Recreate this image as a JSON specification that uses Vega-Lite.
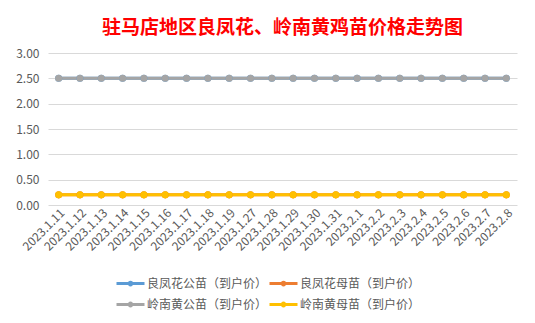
{
  "$schema": "https://vega.github.io/schema/vega-lite/v6.json",
  "autosize": {"type": "none"},
  "width": 469,
  "height": 152,
  "padding": {"left": 48, "top": 53, "right": 18, "bottom": 118},
  "background": "white",
  "title": {
    "text": "驻马店地区良凤花、岭南黄鸡苗价格走势图",
    "font": "Noto Sans CJK SC",
    "fontSize": 19,
    "fontWeight": "bold",
    "color": "#FF0000",
    "anchor": "middle",
    "offset": 9
  },
  "data": {
    "values": [
      {"date": "2023.1.11", "series": "良凤花公苗（到户价）", "price": 2.5},
      {"date": "2023.1.12", "series": "良凤花公苗（到户价）", "price": 2.5},
      {"date": "2023.1.13", "series": "良凤花公苗（到户价）", "price": 2.5},
      {"date": "2023.1.14", "series": "良凤花公苗（到户价）", "price": 2.5},
      {"date": "2023.1.15", "series": "良凤花公苗（到户价）", "price": 2.5},
      {"date": "2023.1.16", "series": "良凤花公苗（到户价）", "price": 2.5},
      {"date": "2023.1.17", "series": "良凤花公苗（到户价）", "price": 2.5},
      {"date": "2023.1.18", "series": "良凤花公苗（到户价）", "price": 2.5},
      {"date": "2023.1.19", "series": "良凤花公苗（到户价）", "price": 2.5},
      {"date": "2023.1.27", "series": "良凤花公苗（到户价）", "price": 2.5},
      {"date": "2023.1.28", "series": "良凤花公苗（到户价）", "price": 2.5},
      {"date": "2023.1.29", "series": "良凤花公苗（到户价）", "price": 2.5},
      {"date": "2023.1.30", "series": "良凤花公苗（到户价）", "price": 2.5},
      {"date": "2023.1.31", "series": "良凤花公苗（到户价）", "price": 2.5},
      {"date": "2023.2.1", "series": "良凤花公苗（到户价）", "price": 2.5},
      {"date": "2023.2.2", "series": "良凤花公苗（到户价）", "price": 2.5},
      {"date": "2023.2.3", "series": "良凤花公苗（到户价）", "price": 2.5},
      {"date": "2023.2.4", "series": "良凤花公苗（到户价）", "price": 2.5},
      {"date": "2023.2.5", "series": "良凤花公苗（到户价）", "price": 2.5},
      {"date": "2023.2.6", "series": "良凤花公苗（到户价）", "price": 2.5},
      {"date": "2023.2.7", "series": "良凤花公苗（到户价）", "price": 2.5},
      {"date": "2023.2.8", "series": "良凤花公苗（到户价）", "price": 2.5},
      {"date": "2023.1.11", "series": "良凤花母苗（到户价）", "price": 0.2},
      {"date": "2023.1.12", "series": "良凤花母苗（到户价）", "price": 0.2},
      {"date": "2023.1.13", "series": "良凤花母苗（到户价）", "price": 0.2},
      {"date": "2023.1.14", "series": "良凤花母苗（到户价）", "price": 0.2},
      {"date": "2023.1.15", "series": "良凤花母苗（到户价）", "price": 0.2},
      {"date": "2023.1.16", "series": "良凤花母苗（到户价）", "price": 0.2},
      {"date": "2023.1.17", "series": "良凤花母苗（到户价）", "price": 0.2},
      {"date": "2023.1.18", "series": "良凤花母苗（到户价）", "price": 0.2},
      {"date": "2023.1.19", "series": "良凤花母苗（到户价）", "price": 0.2},
      {"date": "2023.1.27", "series": "良凤花母苗（到户价）", "price": 0.2},
      {"date": "2023.1.28", "series": "良凤花母苗（到户价）", "price": 0.2},
      {"date": "2023.1.29", "series": "良凤花母苗（到户价）", "price": 0.2},
      {"date": "2023.1.30", "series": "良凤花母苗（到户价）", "price": 0.2},
      {"date": "2023.1.31", "series": "良凤花母苗（到户价）", "price": 0.2},
      {"date": "2023.2.1", "series": "良凤花母苗（到户价）", "price": 0.2},
      {"date": "2023.2.2", "series": "良凤花母苗（到户价）", "price": 0.2},
      {"date": "2023.2.3", "series": "良凤花母苗（到户价）", "price": 0.2},
      {"date": "2023.2.4", "series": "良凤花母苗（到户价）", "price": 0.2},
      {"date": "2023.2.5", "series": "良凤花母苗（到户价）", "price": 0.2},
      {"date": "2023.2.6", "series": "良凤花母苗（到户价）", "price": 0.2},
      {"date": "2023.2.7", "series": "良凤花母苗（到户价）", "price": 0.2},
      {"date": "2023.2.8", "series": "良凤花母苗（到户价）", "price": 0.2},
      {"date": "2023.1.11", "series": "岭南黄公苗（到户价）", "price": 2.5},
      {"date": "2023.1.12", "series": "岭南黄公苗（到户价）", "price": 2.5},
      {"date": "2023.1.13", "series": "岭南黄公苗（到户价）", "price": 2.5},
      {"date": "2023.1.14", "series": "岭南黄公苗（到户价）", "price": 2.5},
      {"date": "2023.1.15", "series": "岭南黄公苗（到户价）", "price": 2.5},
      {"date": "2023.1.16", "series": "岭南黄公苗（到户价）", "price": 2.5},
      {"date": "2023.1.17", "series": "岭南黄公苗（到户价）", "price": 2.5},
      {"date": "2023.1.18", "series": "岭南黄公苗（到户价）", "price": 2.5},
      {"date": "2023.1.19", "series": "岭南黄公苗（到户价）", "price": 2.5},
      {"date": "2023.1.27", "series": "岭南黄公苗（到户价）", "price": 2.5},
      {"date": "2023.1.28", "series": "岭南黄公苗（到户价）", "price": 2.5},
      {"date": "2023.1.29", "series": "岭南黄公苗（到户价）", "price": 2.5},
      {"date": "2023.1.30", "series": "岭南黄公苗（到户价）", "price": 2.5},
      {"date": "2023.1.31", "series": "岭南黄公苗（到户价）", "price": 2.5},
      {"date": "2023.2.1", "series": "岭南黄公苗（到户价）", "price": 2.5},
      {"date": "2023.2.2", "series": "岭南黄公苗（到户价）", "price": 2.5},
      {"date": "2023.2.3", "series": "岭南黄公苗（到户价）", "price": 2.5},
      {"date": "2023.2.4", "series": "岭南黄公苗（到户价）", "price": 2.5},
      {"date": "2023.2.5", "series": "岭南黄公苗（到户价）", "price": 2.5},
      {"date": "2023.2.6", "series": "岭南黄公苗（到户价）", "price": 2.5},
      {"date": "2023.2.7", "series": "岭南黄公苗（到户价）", "price": 2.5},
      {"date": "2023.2.8", "series": "岭南黄公苗（到户价）", "price": 2.5},
      {"date": "2023.1.11", "series": "岭南黄母苗（到户价）", "price": 0.2},
      {"date": "2023.1.12", "series": "岭南黄母苗（到户价）", "price": 0.2},
      {"date": "2023.1.13", "series": "岭南黄母苗（到户价）", "price": 0.2},
      {"date": "2023.1.14", "series": "岭南黄母苗（到户价）", "price": 0.2},
      {"date": "2023.1.15", "series": "岭南黄母苗（到户价）", "price": 0.2},
      {"date": "2023.1.16", "series": "岭南黄母苗（到户价）", "price": 0.2},
      {"date": "2023.1.17", "series": "岭南黄母苗（到户价）", "price": 0.2},
      {"date": "2023.1.18", "series": "岭南黄母苗（到户价）", "price": 0.2},
      {"date": "2023.1.19", "series": "岭南黄母苗（到户价）", "price": 0.2},
      {"date": "2023.1.27", "series": "岭南黄母苗（到户价）", "price": 0.2},
      {"date": "2023.1.28", "series": "岭南黄母苗（到户价）", "price": 0.2},
      {"date": "2023.1.29", "series": "岭南黄母苗（到户价）", "price": 0.2},
      {"date": "2023.1.30", "series": "岭南黄母苗（到户价）", "price": 0.2},
      {"date": "2023.1.31", "series": "岭南黄母苗（到户价）", "price": 0.2},
      {"date": "2023.2.1", "series": "岭南黄母苗（到户价）", "price": 0.2},
      {"date": "2023.2.2", "series": "岭南黄母苗（到户价）", "price": 0.2},
      {"date": "2023.2.3", "series": "岭南黄母苗（到户价）", "price": 0.2},
      {"date": "2023.2.4", "series": "岭南黄母苗（到户价）", "price": 0.2},
      {"date": "2023.2.5", "series": "岭南黄母苗（到户价）", "price": 0.2},
      {"date": "2023.2.6", "series": "岭南黄母苗（到户价）", "price": 0.2},
      {"date": "2023.2.7", "series": "岭南黄母苗（到户价）", "price": 0.2},
      {"date": "2023.2.8", "series": "岭南黄母苗（到户价）", "price": 0.2}
    ]
  },
  "mark": {"type": "line", "strokeWidth": 3, "point": {"size": 50, "filled": true, "opacity": 1}},
  "encoding": {
    "x": {
      "field": "date",
      "type": "ordinal",
      "sort": null,
      "scale": {"type": "point", "padding": 0.5},
      "axis": {
        "title": null,
        "labelAngle": -45,
        "labelFont": "Noto Sans CJK SC",
        "labelFontSize": 12,
        "labelColor": "#595959",
        "labelPadding": 2,
        "ticks": false,
        "domain": false,
        "grid": false
      }
    },
    "y": {
      "field": "price",
      "type": "quantitative",
      "scale": {"domain": [0, 3]},
      "axis": {
        "title": null,
        "values": [0, 0.5, 1, 1.5, 2, 2.5, 3],
        "format": ".2f",
        "labelFont": "Noto Sans CJK SC",
        "labelFontSize": 12,
        "labelColor": "#595959",
        "labelPadding": 9,
        "ticks": false,
        "domain": false,
        "gridColor": "#D9D9D9",
        "gridWidth": 1
      }
    },
    "color": {
      "field": "series",
      "type": "nominal",
      "sort": null,
      "scale": {
        "domain": ["良凤花公苗（到户价）", "良凤花母苗（到户价）", "岭南黄公苗（到户价）", "岭南黄母苗（到户价）"],
        "range": ["#5B9BD5", "#ED7D31", "#A5A5A5", "#FFC000"]
      },
      "legend": {
        "title": null,
        "orient": "none",
        "direction": "horizontal",
        "legendX": 74,
        "legendY": 222,
        "columns": 2,
        "columnPadding": -5,
        "rowPadding": 5,
        "symbolType": "M-2,0H2M-0.2,0A0.2,0.2 0 1,1 0.2,0A0.2,0.2 0 1,1 -0.2,0",
        "symbolSize": 196,
        "symbolStrokeWidth": 3,
        "labelFont": "Noto Sans CJK SC",
        "labelFontSize": 12,
        "labelColor": "#595959",
        "labelOffset": 8
      }
    }
  },
  "config": {"view": {"stroke": null}}
}
